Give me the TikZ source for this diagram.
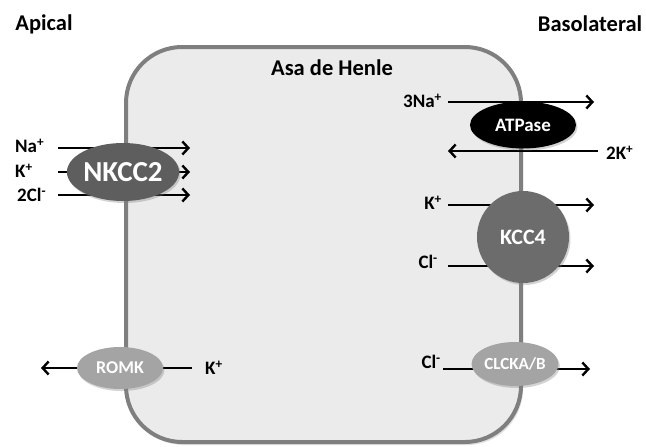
\documentclass[tikz,border=0pt]{standalone}
\usepackage{fontspec}
\setmainfont{Carlito}
\usetikzlibrary{arrows.meta,shapes.geometric,shadows}
\definecolor{cellgray}{HTML}{7F7F7F}
\definecolor{cellfill}{HTML}{EBEBEB}
\definecolor{nkcc}{HTML}{5E5E5E}
\definecolor{kcc}{HTML}{6C6C6C}
\definecolor{light}{HTML}{A4A4A4}
\begin{document}
\begin{tikzpicture}[x=1pt,y=-1pt,
  title/.style={font=\bfseries\fontsize{22.5}{23}\selectfont, inner sep=0pt},
  ion/.style={font=\bfseries\fontsize{19}{20}\selectfont, inner sep=0pt},
  flow/.style={line width=2.6pt, -{Straight Barb[length=6pt,width=13pt,line width=2.4pt]}},
  transp/.style={ellipse, inner sep=0pt, text=white, font=\bfseries\fontsize{#1}{#1}\selectfont,
     drop shadow={opacity=0.35, shadow xshift=1.5pt, shadow yshift=-2pt}},
]
\useasboundingbox (0,0) rectangle (646,447);
% cell
\draw[line width=4pt, draw=cellgray, fill=cellfill, rounded corners=56pt,
  drop shadow={opacity=0.25, shadow xshift=2pt, shadow yshift=-3pt}] (126,47) rectangle (521,442);

% titles
\node[title] (apical) at (44,24) {Apical};
\node[title] (baso) at (590,24) {Basolateral};
\node[title] (asa) at (332,68) {Asa de Henle};

% NKCC2 flows
\node[ion, anchor=west] (na1) at (15,146) {Na\textsuperscript{+}};
\node[ion, anchor=west] (k1) at (15,171) {K\textsuperscript{+}};
\node[ion, anchor=west] (cl1) at (17,195) {2Cl\textsuperscript{-}};
\coordinate (na1s) at (58,148); \coordinate (na1e) at (190,148);
\coordinate (k1s) at (58,172); \coordinate (k1e) at (190,172);
\coordinate (cl1s) at (58,195); \coordinate (cl1e) at (190,195);
\draw[flow] (na1s) -- (na1e);
\draw[flow] (k1s) -- (k1e);
\draw[flow] (cl1s) -- (cl1e);
\node[transp=29, fill=nkcc, minimum width=93pt, minimum height=58pt] (nkcc2) at (123,172) {NKCC2};

% ATPase flows
\node[ion, anchor=east] (na3) at (442,101) {3Na\textsuperscript{+}};
\node[ion, anchor=west] (k2) at (606,153) {2K\textsuperscript{+}};
\coordinate (na3s) at (448,102); \coordinate (na3e) at (594,102);
\coordinate (k2s) at (598,151); \coordinate (k2e) at (448,151);
\draw[flow] (na3s) -- (na3e);
\draw[flow] (k2s) -- (k2e);
\node[transp=19, fill=black, minimum width=106pt, minimum height=47pt] (atp) at (523,125) {ATPase};

% KCC4 flows
\node[ion, anchor=east] (k3) at (442,203) {K\textsuperscript{+}};
\node[ion, anchor=east] (cl3) at (438,262) {Cl\textsuperscript{-}};
\coordinate (k3s) at (448,205); \coordinate (k3e) at (594,205);
\coordinate (cl3s) at (448,266); \coordinate (cl3e) at (594,266);
\draw[flow] (k3s) -- (k3e);
\draw[flow] (cl3s) -- (cl3e);
\node[transp=22, circle, fill=kcc, minimum size=92pt] (kcc4) at (523,237) {KCC4};

% ROMK
\node[ion, anchor=west] (k4) at (205,368) {K\textsuperscript{+}};
\coordinate (k4s) at (192,368); \coordinate (k4e) at (41,368);
\draw[flow] (k4s) -- (k4e);
\node[transp=18, fill=light, minimum width=86pt, minimum height=42pt] (romk) at (120,368) {ROMK};

% CLCKA/B
\node[ion, anchor=east] (cl4) at (441,362) {Cl\textsuperscript{-}};
\coordinate (cl4s) at (443,369); \coordinate (cl4e) at (590,369);
\draw[flow] (cl4s) -- (cl4e);
\node[transp=17, fill=light, minimum width=85pt, minimum height=44pt] (clc) at (515,364) {CLCKA/B};
\end{tikzpicture}
\end{document}
